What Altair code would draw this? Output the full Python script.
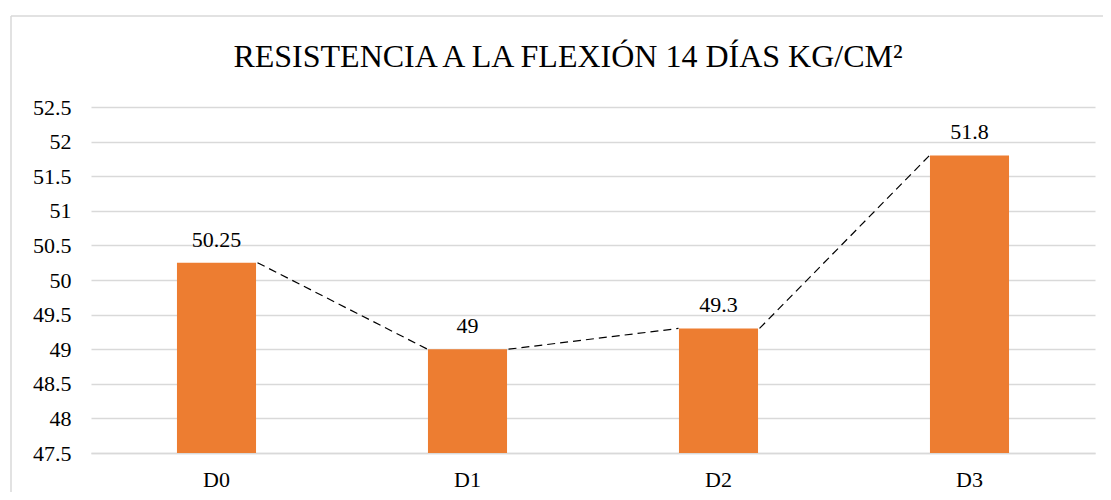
import altair as alt
import pandas as pd

title_text = "RESISTENCIA A LA FLEXIÓN 14 DÍAS KG/CM²"
categories = ["D0", "D1", "D2", "D3"]
values = [50.25, 49.0, 49.3, 51.8]
y_ticks = [47.5, 48, 48.5, 49, 49.5, 50, 50.5, 51, 51.5, 52, 52.5]

df = pd.DataFrame({"cat": categories, "val": values})
seg = pd.DataFrame({
    "c1": categories[:-1], "c2": categories[1:],
    "v1": values[:-1], "v2": values[1:],
})

FONT = "Liberation Serif"
x_scale = alt.Scale(domain=categories, paddingInner=0.685, paddingOuter=0.3425)
y_scale = alt.Scale(domain=[47.5, 52.5], zero=False, nice=False)

x_enc = alt.X("cat:N", scale=x_scale, sort=categories,
              axis=alt.Axis(title=None, labelAngle=0, labelFont=FONT, labelFontSize=22,
                            labelColor="#000000", labelPadding=16, ticks=False,
                            domainColor="#D9D9D9", domainWidth=1.5))
y_enc = alt.Y("val:Q", scale=y_scale,
              axis=alt.Axis(title=None, values=y_ticks, tickCount=len(y_ticks),
                            format=".1~f", labelFont=FONT,
                            labelFontSize=22, labelColor="#000000", labelPadding=20,
                            labelOverlap=False, ticks=False, domain=False, grid=True,
                            gridColor="#D9D9D9", gridWidth=1.5))

bars = alt.Chart(df).mark_bar(color="#ED7D31", clip=True).encode(x=x_enc, y=y_enc)

labels = alt.Chart(df).mark_text(font=FONT, fontSize=22, color="#000000",
                                 baseline="alphabetic", dy=-16).encode(
    x=alt.X("cat:N", scale=x_scale, sort=categories),
    y=alt.Y("val:Q", scale=y_scale),
    text=alt.Text("val:Q", format=".2~f"),
)

lines = alt.Chart(seg).mark_rule(color="#000000", strokeWidth=1.2, strokeDash=[8, 5],
                                 xOffset=41, x2Offset=-40).encode(
    x=alt.X("c1:N", scale=x_scale, sort=categories),
    x2="c2:N",
    y=alt.Y("v1:Q", scale=y_scale),
    y2="v2:Q",
)

single = alt.Data(values=[{"t": title_text}])
border_top = alt.Chart(single).mark_rule(color="#D9D9D9", strokeWidth=1.5).encode(
    x=alt.value(-80), x2=alt.value(1020), y=alt.value(-91))
border_left = alt.Chart(single).mark_rule(color="#D9D9D9", strokeWidth=1.5).encode(
    x=alt.value(-80), y=alt.value(-91), y2=alt.value(400))
title = alt.Chart(single).mark_text(font=FONT, fontSize=32, color="#000000",
                                    align="center", baseline="alphabetic").encode(
    x=alt.value(477), y=alt.value(-40), text="t:N")

chart = alt.layer(border_top, border_left, title, bars, lines, labels).properties(
    width=1004,
    height=346,
    autosize=alt.AutoSizeParams(type="none"),
    padding={"left": 83, "top": 99, "right": 8, "bottom": 39},
).configure(background="white").configure_view(stroke=None)

chart.save("out.html", embed_options={"renderer": "svg", "actions": False})
